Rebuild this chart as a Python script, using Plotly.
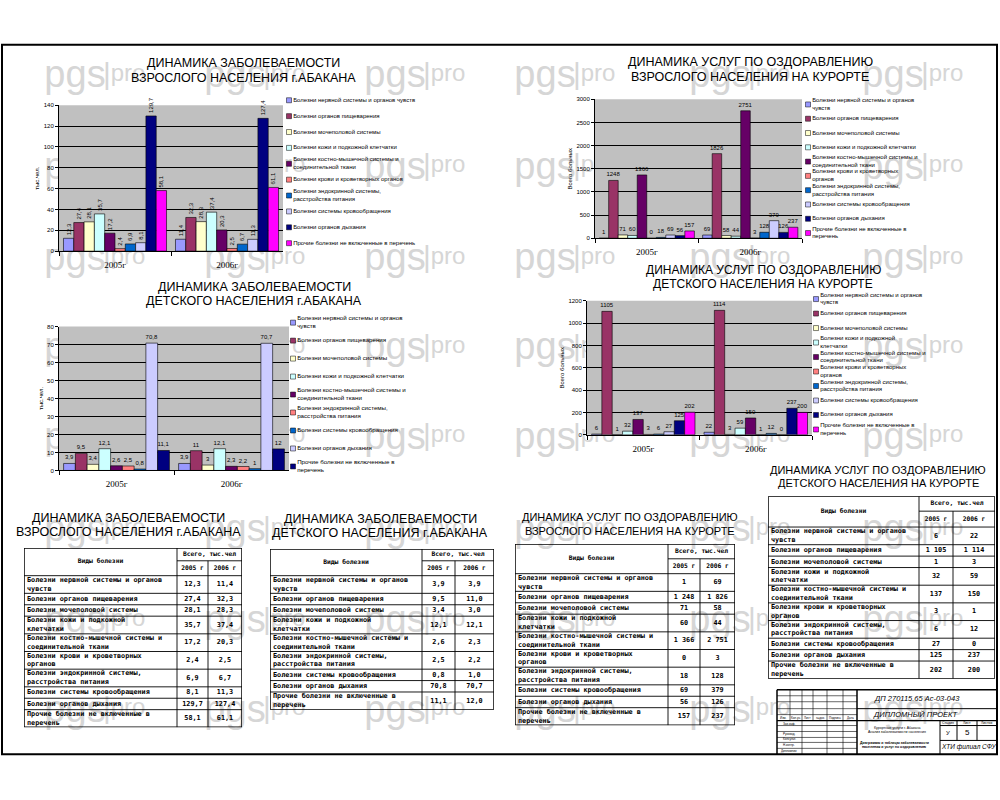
import textwrap
import plotly.graph_objects as go

W, H = 1000, 800

# ---- data ----
years = ["2005г", "2006г"]

disease_names = [
    "Болезни нервной системы и органов чувств",
    "Болезни органов пищеварения",
    "Болезни мочеполовой системы",
    "Болезни кожи и подкожной клетчатки",
    "Болезни костно-мышечной системы и соединительной ткани",
    "Болезни крови и кроветворных органов",
    "Болезни эндокринной системы, расстройства питания",
    "Болезни системы кровообращения",
    "Болезни органов дыхания",
    "Прочие болезни не включенные в перечень",
]
child_names = [n for i, n in enumerate(disease_names) if i != 5]

adult_2005 = [12.3, 27.4, 28.1, 35.7, 17.2, 2.4, 6.9, 8.1, 129.7, 58.1]
adult_2006 = [11.4, 32.3, 28.3, 37.4, 20.3, 2.5, 6.7, 11.3, 127.4, 61.1]

child_2005 = [3.9, 9.5, 3.4, 12.1, 2.6, 2.5, 0.8, 70.8, 11.1]
child_2006 = [3.9, 11.0, 3.0, 12.1, 2.3, 2.2, 1.0, 70.7, 12.0]

resort_adult_2005 = [1, 1248, 71, 60, 1366, 0, 18, 69, 56, 157]
resort_adult_2006 = [69, 1826, 58, 44, 2751, 3, 128, 379, 126, 237]

resort_child_2005 = [6, 1105, 1, 32, 137, 3, 6, 27, 125, 202]
resort_child_2006 = [22, 1114, 3, 59, 150, 1, 12, 0, 237, 200]

palette = ["#9999FF", "#993366", "#FFFFCC", "#CCFFFF", "#660066",
           "#FF8080", "#0066CC", "#CCCCFF", "#000080", "#FF00FF"]

title_adult = ["ДИНАМИКА ЗАБОЛЕВАЕМОСТИ", "ВЗРОСЛОГО НАСЕЛЕНИЯ г.АБАКАНА"]
title_child = ["ДИНАМИКА ЗАБОЛЕВАЕМОСТИ", "ДЕТСКОГО НАСЕЛЕНИЯ г.АБАКАНА"]
title_r_adult = ["ДИНАМИКА УСЛУГ ПО ОЗДОРАВЛЕНИЮ", "ВЗРОСЛОГО НАСЕЛЕНИЯ НА КУРОРТЕ"]
title_r_child = ["ДИНАМИКА УСЛУГ ПО ОЗДОРАВЛЕНИЮ", "ДЕТСКОГО НАСЕЛЕНИЯ НА КУРОРТЕ"]

FONT = "Liberation Sans"
MONO = "DejaVu Sans Mono"


def wrap(text, width):
    return "<br>".join(textwrap.wrap(text, width))


def lab(v):
    return ("%g" % v).replace(".", ",")


def tab_dec(v):
    return ("%.1f" % v).replace(".", ",")


def tab_int(v):
    return "{:,}".format(int(v)).replace(",", " ")


def ax(i):
    s = "" if i == 1 else str(i)
    return "x" + s, "xaxis" + s, "y" + s, "yaxis" + s


def dom_x(x0, x1):
    return [x0 / W, x1 / W]


def dom_y(top, bottom):
    return [1 - bottom / H, 1 - top / H]


fig = go.Figure()
shapes = []
annotations = []
axes = {}


def text_at(x, y, s, size, italic=False, family=FONT, color="black"):
    annotations.append(dict(
        x=x / W, y=1 - y / H, xref="paper", yref="paper", text=s,
        showarrow=False, xanchor="center", yanchor="middle",
        font=dict(family=family, size=size, color=color,
                  style="italic" if italic else "normal")))


def title(lines, cx, cy, size, gap=14.5):
    text_at(cx, cy - gap / 2, lines[0], size)
    text_at(cx, cy + gap / 2, lines[1], size)


def pline(x0, y0, x1, y1, w=1.0):
    shapes.append(dict(type="line", xref="paper", yref="paper",
                       x0=x0 / W, y0=1 - y0 / H, x1=x1 / W, y1=1 - y1 / H,
                       line=dict(color="black", width=w)))


# ---- watermark (under everything) ----
for cy in [68, 160, 252, 342, 432, 525, 617, 707]:
    for cx in [95, 255, 415, 565, 740, 913]:
        for dx, s, sz in [(-20, "pgs", 38), (12, "|", 30), (33, "pro", 24)]:
            shapes.append(dict(
                type="rect", xref="paper", yref="paper", layer="below",
                x0=(cx + dx - 1) / W, x1=(cx + dx + 1) / W,
                y0=1 - (cy + 1) / H, y1=1 - (cy - 1) / H,
                line=dict(width=0), fillcolor="rgba(0,0,0,0)",
                label=dict(text=s, textposition="middle center",
                           font=dict(family=FONT, size=sz, color="#d6d6d6"))))

# ---- bar charts ----
charts = [
    dict(v05=adult_2005, v06=adult_2006, names=disease_names, colors=palette,
         ymax=140, dtick=20, ytitle="тыс.чел.", box=(59, 103, 283, 250),
         angle=-90, leg=(289, 90, 445, 250), wrapw=40, legsize=6,
         title=title_adult, tpos=(243, 68, 12.5)),
    dict(v05=child_2005, v06=child_2006, names=child_names, colors=palette[:9],
         ymax=80, dtick=10, ytitle="тыс.чел.", box=(59, 326, 289, 471),
         angle=0, leg=(293, 313, 450, 476), wrapw=35, legsize=6.2,
         title=title_child, tpos=(254, 293, 12.5)),
    dict(v05=resort_adult_2005, v06=resort_adult_2006, names=disease_names,
         colors=palette, ymax=3000, dtick=500, ytitle="Всего больных",
         box=(595, 97, 802, 237), angle=0, leg=(808, 95, 965, 239), wrapw=34,
         legsize=6, title=title_r_adult, tpos=(750, 67, 12.5)),
    dict(v05=resort_child_2005, v06=resort_child_2006, names=disease_names,
         colors=palette, ymax=1200, dtick=200, ytitle="Всего больных",
         box=(587, 300, 812, 435), angle=0, leg=(816, 291, 975, 437), wrapw=33,
         legsize=6, title=title_r_child, tpos=(763, 276, 12)),
]

for k, c in enumerate(charts, start=1):
    xr, xk, yr, yk = ax(k)
    x0, y0, x1, y1 = c["box"]
    for i, name in enumerate(c["names"]):
        vals = [c["v05"][i], c["v06"][i]]
        fig.add_trace(go.Bar(
            x=years, y=vals, name=name, xaxis=xr, yaxis=yr,
            marker=dict(color=c["colors"][i], line=dict(color="black", width=0.6)),
            text=[lab(v) for v in vals], textposition="outside",
            textangle=c["angle"], constraintext="none", cliponaxis=False,
            textfont=dict(family=FONT, size=6, color="black"),
            showlegend=False, hoverinfo="skip"))
    axes[xk] = dict(domain=dom_x(x0, x1), anchor=yr, type="category",
                    showline=True, linecolor="black", linewidth=1,
                    ticks="outside", tickson="boundaries", ticklen=4,
                    tickcolor="black", showgrid=False, fixedrange=True,
                    ticklabelstandoff=5,
                    tickfont=dict(family="Liberation Serif", size=9, color="black"))
    axes[yk] = dict(domain=dom_y(y0, y1), anchor=xr, range=[0, c["ymax"]],
                    dtick=c["dtick"], showline=True, linecolor="black",
                    linewidth=1, ticks="outside", ticklen=3, tickcolor="black",
                    showgrid=True, gridcolor="black", gridwidth=1,
                    zeroline=False, fixedrange=True,
                    tickfont=dict(family=FONT, size=6, color="black"),
                    title=dict(text=c["ytitle"], standoff=3,
                               font=dict(family=FONT, size=6, color="black")))
    shapes.append(dict(type="rect", xref=xr + " domain", yref=yr + " domain",
                       x0=0, x1=1, y0=0, y1=1, fillcolor="#C0C0C0",
                       line=dict(width=0), layer="below"))

    # legend drawn as a marker column in its own hidden axes
    n = len(c["names"])
    lxr, lxk, lyr, lyk = ax(k + 4)
    lx0, ly0, lx1, ly1 = c["leg"]
    fig.add_trace(go.Scatter(
        x=[0] * n, y=list(range(n)), mode="markers+text", xaxis=lxr, yaxis=lyr,
        marker=dict(symbol="square", size=5, color=c["colors"],
                    line=dict(color="black", width=0.5)),
        text=[wrap(nm, c["wrapw"]) for nm in c["names"]],
        textposition="middle right", cliponaxis=False,
        textfont=dict(family=FONT, size=c["legsize"], color="black"),
        showlegend=False, hoverinfo="skip"))
    axes[lxk] = dict(domain=dom_x(lx0, lx1), anchor=lyr, range=[0, 1],
                     visible=False, fixedrange=True)
    axes[lyk] = dict(domain=dom_y(ly0, ly1), anchor=lxr, range=[n - 0.5, -0.5],
                     visible=False, fixedrange=True)

    tx, ty, ts = c["tpos"]
    title(c["title"], tx, ty, ts)

# ---- tables ----
ROW1, ROW2 = 11.5, 17.8

tables = [
    dict(names=disease_names, v05=adult_2005, v06=adult_2006, fmt=tab_dec,
         left=24, top=549, colw=[153, 31, 34], hdr=[13, 15],
         title=title_adult, tpos=(128, 526, 12.5)),
    dict(names=child_names, v05=child_2005, v06=child_2006, fmt=tab_dec,
         left=270, top=550, colw=[152, 33, 39], hdr=[12, 15],
         title=title_child, tpos=(380, 527, 12.5)),
    dict(names=disease_names, v05=resort_adult_2005, v06=resort_adult_2006,
         fmt=tab_int, left=515, top=545, colw=[153, 32, 35], hdr=[15, 15],
         title=title_r_adult, tpos=(630, 525, 11)),
    dict(names=disease_names, v05=resort_child_2005, v06=resort_child_2006,
         fmt=tab_int, left=768, top=497, colw=[151, 34, 42], hdr=[15, 16],
         title=title_r_child, tpos=(878, 477, 11)),
]

for k, t in enumerate(tables, start=9):
    xr, xk, yr, yk = ax(k)
    w1, w2, w3 = t["colw"]
    tw = w1 + w2 + w3
    h0, h1 = t["hdr"]
    rows = [wrap(nm, 33) for nm in t["names"]]
    heights = [ROW2 if "<br>" in r else ROW1 for r in rows]
    th = h0 + h1 + sum(heights)

    # grid lines
    lx, ly = [], []

    def seg(a, b, c_, d):
        lx.extend([a, c_, None])
        ly.extend([b, d, None])

    seg(w1, 0, w1, th)
    seg(w1 + w2, h0, w1 + w2, th)
    seg(w1, h0, tw, h0)
    y = h0 + h1
    centers = []
    for h in heights:
        seg(0, y, tw, y)
        centers.append(y + h / 2)
        y += h
    fig.add_trace(go.Scatter(x=lx, y=ly, mode="lines", xaxis=xr, yaxis=yr,
                             line=dict(color="black", width=0.9),
                             showlegend=False, hoverinfo="skip"))
    fig.add_trace(go.Scatter(x=[0, tw, tw, 0, 0], y=[0, 0, th, th, 0],
                             mode="lines", xaxis=xr, yaxis=yr,
                             line=dict(color="black", width=1.5),
                             showlegend=False, hoverinfo="skip"))

    body_font = dict(family=MONO, size=6.8, color="black", weight="bold")
    fig.add_trace(go.Scatter(
        x=[3] * len(rows), y=centers, text=rows, mode="text",
        textposition="middle right", textfont=body_font, xaxis=xr, yaxis=yr,
        showlegend=False, hoverinfo="skip", cliponaxis=False))
    fig.add_trace(go.Scatter(
        x=[w1 + w2 / 2] * len(rows) + [w1 + w2 + w3 / 2] * len(rows),
        y=centers + centers,
        text=[t["fmt"](v) for v in t["v05"]] + [t["fmt"](v) for v in t["v06"]],
        mode="text", textposition="middle center", textfont=body_font,
        xaxis=xr, yaxis=yr, showlegend=False, hoverinfo="skip", cliponaxis=False))
    fig.add_trace(go.Scatter(
        x=[w1 / 2, w1 + (w2 + w3) / 2, w1 + w2 / 2, w1 + w2 + w3 / 2],
        y=[(h0 + h1) / 2, h0 / 2, h0 + h1 / 2, h0 + h1 / 2],
        text=["Виды болезни", "Всего, тыс.чел", "2005 г", "2006 г"],
        mode="text", textposition="middle center",
        textfont=dict(family=MONO, size=6.3, color="black", weight="bold"),
        xaxis=xr, yaxis=yr, showlegend=False, hoverinfo="skip", cliponaxis=False))

    axes[xk] = dict(domain=dom_x(t["left"], t["left"] + tw), anchor=yr,
                    range=[0, tw], visible=False, fixedrange=True)
    axes[yk] = dict(domain=dom_y(t["top"], t["top"] + th), anchor=xr,
                    range=[th, 0], visible=False, fixedrange=True)

    tx, ty, ts = t["tpos"]
    title(t["title"], tx, ty, ts, gap=13.5)

# ---- sheet frame and title block ----
shapes.append(dict(type="rect", xref="paper", yref="paper",
                   x0=2 / W, x1=997 / W, y0=1 - 757 / H, y1=1 - 42 / H,
                   line=dict(color="black", width=2)))

pline(777, 692, 997, 692, 1.5)
pline(777, 692, 777, 757, 1.5)
pline(857, 692, 857, 757, 1.5)
pline(857, 711, 997, 711)
pline(777, 723, 997, 723, 1.3)
pline(940, 723, 940, 757)
pline(940, 728, 997, 728)
pline(957, 723, 957, 743)
pline(977, 723, 977, 743)
pline(940, 743, 997, 743)
for yy in [698, 704, 711, 717, 728, 734, 740, 745, 751]:
    pline(777, yy, 857, yy, 0.6)
for xx in [790, 813]:
    pline(xx, 692, xx, 723, 0.6)
for xx in [802, 827, 843]:
    pline(xx, 692, xx, 757, 0.6)

text_at(917, 701, "ДП 270115.65 Ас-03-043", 7.5, italic=True)
text_at(916, 717, "ДИПЛОМНЫЙ ПРОЕКТ", 7.5, italic=True)
text_at(948, 725.5, "Стадия", 3.5)
text_at(967, 725.5, "Лист", 3.5)
text_at(987, 725.5, "Листов", 3.5)
text_at(948, 736, "У", 6)
text_at(967, 735, "5", 8)
text_at(968, 750, "ХТИ филиал СФУ", 6.5, italic=True)
text_at(897, 730, "Курортные услуги г. Абакана", 3.5)
text_at(897, 735, "Анализ заболеваемости населения", 3.5)
text_at(894, 746, "<b>Диаграммы и таблицы заболеваемости</b>", 3.5)
text_at(894, 750, "<b>населения и услуг по оздоровлению</b>", 3.5)
for xx, s in [(783, "Изм."), (796, "Кол.уч."), (807, "Лист"), (820, "№док."),
              (835, "Подпись"), (850, "Дата")]:
    text_at(xx, 720, s, 3)
for yy, s in [(726, "Зав.каф."), (737, "Руковод."), (742, "Консульт."),
              (748, "Н.контр."), (754, "Дипломник")]:
    text_at(789, yy, s, 3)

fig.update_layout(
    width=W, height=H,
    margin=dict(l=0, r=0, t=0, b=0),
    paper_bgcolor="white",
    plot_bgcolor="rgba(0,0,0,0)",
    barmode="group", bargap=0.08, bargroupgap=0,
    showlegend=False,
    shapes=shapes,
    annotations=annotations,
    **axes,
)

# page body has a default margin; drop it so the sheet sits at the window corner
fig.write_html("out.html", config={"displayModeBar": False},
               post_script="document.body.style.margin='0';")
